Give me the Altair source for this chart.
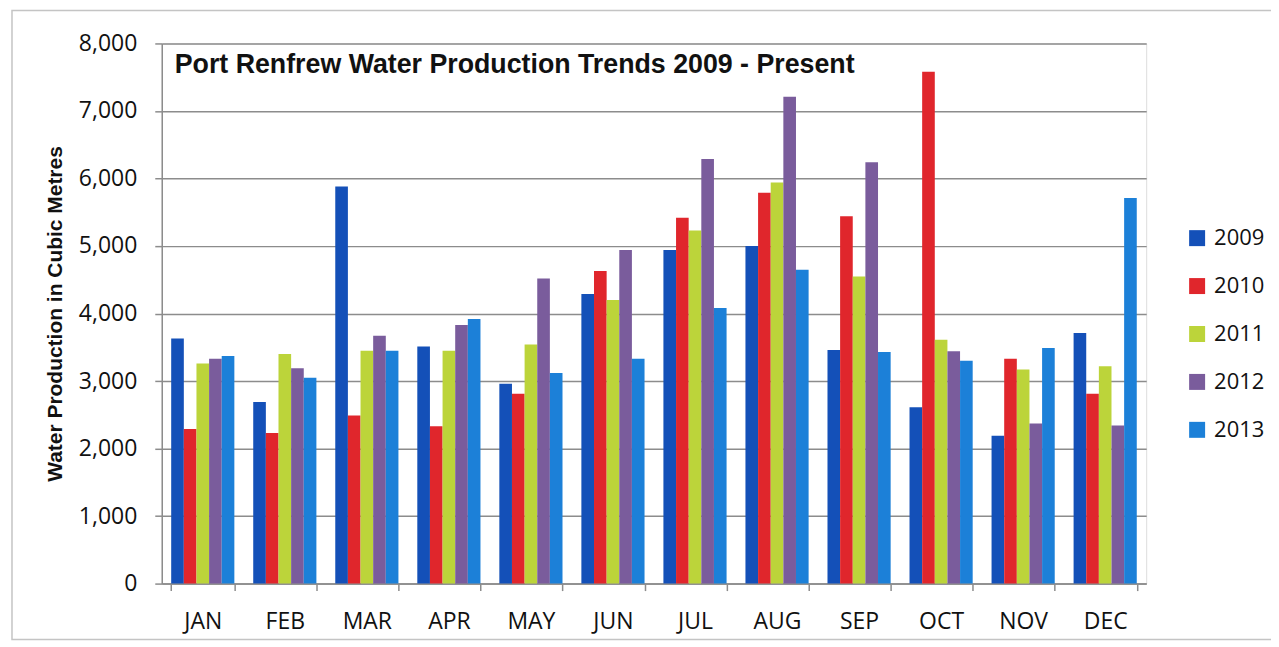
import altair as alt
import pandas as pd

months = ["JAN", "FEB", "MAR", "APR", "MAY", "JUN", "JUL", "AUG", "SEP", "OCT", "NOV", "DEC"]
years = ["2009", "2010", "2011", "2012", "2013"]
v2009 = [3630, 2690, 5880, 3510, 2960, 4290, 4940, 5000, 3460, 2610, 2190, 3710]
v2010 = [2290, 2230, 2490, 2330, 2810, 4630, 5420, 5790, 5440, 7580, 3330, 2810]
v2011 = [3260, 3400, 3450, 3450, 3540, 4200, 5230, 5940, 4550, 3610, 3170, 3220]
v2012 = [3330, 3190, 3670, 3830, 4520, 4940, 6290, 7210, 6240, 3440, 2370, 2340]
v2013 = [3370, 3050, 3450, 3920, 3120, 3330, 4080, 4650, 3430, 3300, 3490, 5710]
y_ticks = [0, 1000, 2000, 3000, 4000, 5000, 6000, 7000, 8000]
colors = ["#1450B8", "#E0262C", "#BCD43A", "#7A5C9C", "#1C80D8"]

series = {"2009": v2009, "2010": v2010, "2011": v2011, "2012": v2012, "2013": v2013}
rows = []
for yr in years:
    for m, v in zip(months, series[yr]):
        rows.append({"month": m, "year": yr, "value": v})
df = pd.DataFrame(rows)

GRAY = "#8c8c8c"

bars = alt.Chart(df).mark_bar().encode(
    x=alt.X(
        "month:N", sort=months,
        scale=alt.Scale(paddingInner=0.23, paddingOuter=0.115),
        axis=alt.Axis(
            title=None, labelAngle=0, tickBand="extent", grid=False,
            labelFont="Open Sans", labelFontSize=23, labelColor="#111111",
            labelPadding=20, tickSize=7, tickColor=GRAY, domainColor=GRAY,
            domainWidth=1.5, tickWidth=1.5,
        ),
    ),
    xOffset=alt.XOffset("year:N", sort=years, scale=alt.Scale(paddingInner=0, paddingOuter=0)),
    y=alt.Y(
        "value:Q",
        scale=alt.Scale(domain=[0, 8000], nice=False),
        axis=alt.Axis(
            values=y_ticks, format=",.0f",
            title="Water Production in Cubic Metres",
            titleFont="Liberation Sans", titleFontSize=21, titleFontWeight="bold",
            titleColor="#111111", titlePadding=13,
            labelFont="Open Sans", labelFontSize=23, labelColor="#111111",
            labelPadding=18, tickSize=7, tickColor=GRAY, domainColor=GRAY,
            domainWidth=1.5, tickWidth=1.5,
            grid=True, gridColor=GRAY, gridWidth=1.5,
        ),
    ),
    color=alt.Color(
        "year:N",
        scale=alt.Scale(domain=years, range=colors),
        legend=alt.Legend(
            title=None, orient="none", legendX=1026, legendY=184,
            labelFont="Open Sans", labelFontSize=22, labelColor="#111111",
            symbolType="square", symbolSize=256, symbolStrokeWidth=0,
            rowPadding=26, labelOffset=6,
        ),
    ),
)

border = alt.Chart(pd.DataFrame({"a": [0]})).mark_rect(
    fill=None, stroke="#c4c4c4", strokeWidth=1.5, clip=False
).encode(
    x=alt.value(-150), x2=alt.value(1112), y=alt.value(-33), y2=alt.value(597)
)

chart = alt.layer(border, bars).properties(
    width=986,
    height=541,
    title=alt.TitleParams(
        "Port Renfrew Water Production Trends 2009 - Present",
        anchor="start", frame="group", baseline="top", offset=0,
        dx=13, dy=69, font="Liberation Sans", fontSize=26.8, fontWeight="bold",
        color="#111111",
    ),
    autosize=alt.AutoSizeParams(type="none"),
    padding={"left": 154, "top": 35, "right": 125, "bottom": 60},
).configure_view(stroke=None).configure(background="white")

chart.save("out.html", embed_options={"renderer": "svg", "actions": False})
